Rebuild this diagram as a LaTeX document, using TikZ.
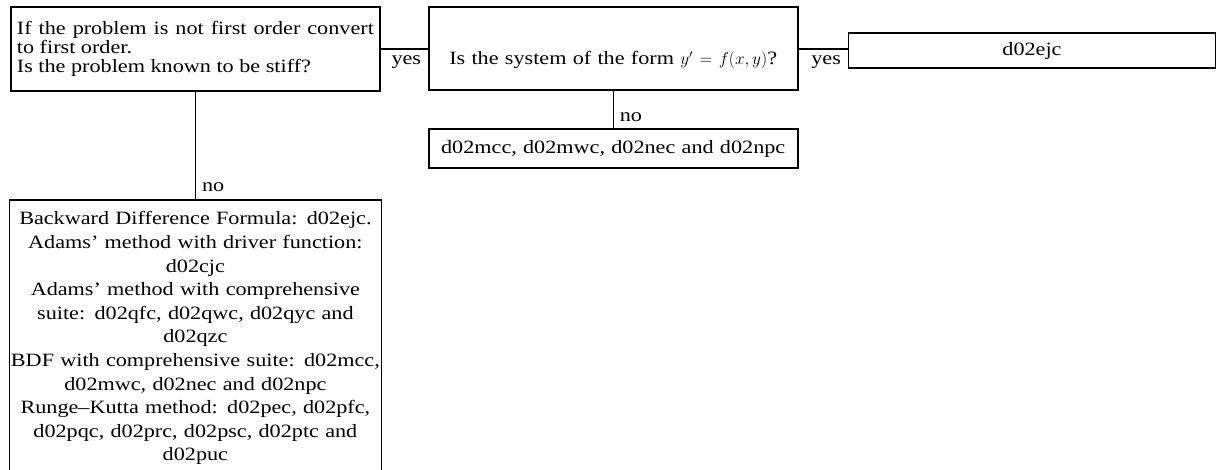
\documentclass[tikz,border=0pt]{standalone}
\usepackage{fontspec}
\setmainfont{Liberation Serif}[FakeStretch=1.18]
\usetikzlibrary{positioning}
\hyphenpenalty=10000

\begin{document}
\begin{tikzpicture}[
x=1pt, y=-1pt,
font=\fontsize{18.8pt}{19.2pt}\selectfont,
box/.style={rectangle, draw, line width=1.8pt, inner xsep=6pt, text width=357pt, align=center},
link/.style={line width=1.4pt},
tag/.style={inner sep=6pt}
]
\useasboundingbox (0,0) rectangle (1216,470);

% --- QUESTIONS ---
\node[box, anchor=north west, minimum height=84pt, align=justify] (stiff) at (10,6) {If the problem is not first order convert to first order.\\Is the problem known to be stiff?};
\node[box, right=47pt of stiff, minimum height=83pt, text height=44pt, text depth=13pt] (explicit) {Is the system of the form $y' = f(x,y)$?};

% --- ROUTINES ---
\node[box, right=49pt of explicit, text width=355pt, minimum height=35pt, yshift=-2pt] (ejc) {d02ejc};
\node[box, below=107pt of stiff, text width=370pt, inner xsep=1pt, inner ysep=12pt, font=\fontsize{18.8pt}{23.6pt}\selectfont] (nonstiff) {Backward Difference Formula: d02ejc.\\
Adams' method with driver function:\\
d02cjc\\
Adams' method with comprehensive\\
suite: d02qfc, d02qwc, d02qyc and\\
d02qzc\\
BDF with comprehensive suite: d02mcc,\\
d02mwc, d02nec and d02npc\\
Runge--Kutta method: d02pec, d02pfc,\\
d02pqc, d02prc, d02psc, d02ptc and\\
d02puc};
\node[box, below=37pt of explicit, minimum height=39pt] (implicit) {d02mcc, d02mwc, d02nec and d02npc};

% --- FLOWS ---
\draw[link] (stiff.east) -- (stiff.east -| explicit.west) node[tag, below left] {yes};
\draw[link] (explicit.east) -- (explicit.east -| ejc.west) node[tag, below left] {yes};
\draw[link] (explicit.south) -- (implicit.north) node[tag, above right] {no};
\draw[link] (stiff.south) -- (nonstiff.north) node[tag, above right] {no};

\end{tikzpicture}
\end{document}
